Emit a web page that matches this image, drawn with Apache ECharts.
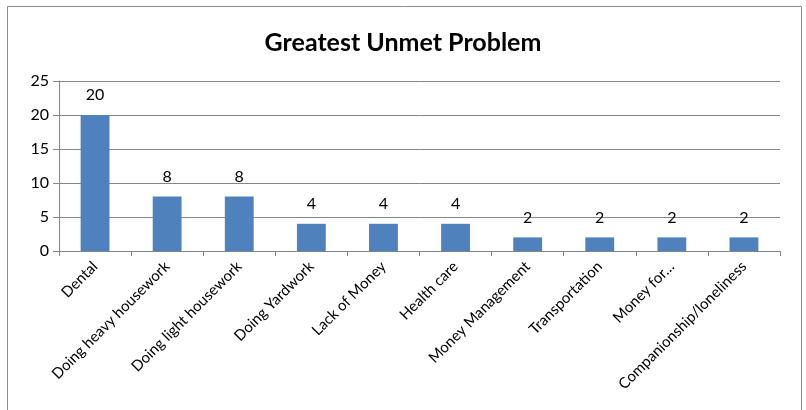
<!DOCTYPE html>
<html><head><meta charset="utf-8">
<script src="https://cdn.jsdelivr.net/npm/echarts@6/dist/echarts.min.js"></script>
<style>html,body{margin:0;padding:0;background:#fff}#c{width:806px;height:410px}</style>
</head><body><div id="c"></div>
<script>
const categories = ["Dental","Doing heavy housework","Doing light housework","Doing Yardwork","Lack of Money","Health care","Money Management","Transportation","Money for\u2026","Companionship/loneliness"];
const values = [20,8,8,4,4,4,2,2,2,2];
const yTicks = {min:0, max:25, interval:5};
const titleText = "Greatest Unmet Problem";
const font = "Lato, 'Open Sans', sans-serif";
const chart = echarts.init(document.getElementById('c'), null, {renderer:'canvas'});
chart.setOption({
  animation:false,
  backgroundColor:'#fff',
  title:{text:titleText,left:'center',top:25,textStyle:{fontFamily:font,fontWeight:'bold',fontSize:25,color:'#000'}},
  graphic:[{type:'rect',shape:{x:7.5,y:6.5,width:794,height:430},style:{fill:'none',stroke:'#8c8c8c',lineWidth:1},z:-1}],
  grid:{left:59,right:26,top:81,bottom:159,containLabel:false},
  xAxis:{type:'category',data:categories,boundaryGap:true,
    axisLine:{lineStyle:{color:'#868686'}},
    axisTick:{show:true,alignWithLabel:false,length:5,lineStyle:{color:'#868686'}},
    axisLabel:{rotate:45,interval:0,fontFamily:font,fontSize:15,color:'#000',margin:13}},
  yAxis:{type:'value',min:yTicks.min,max:yTicks.max,interval:yTicks.interval,
    axisLine:{show:true,lineStyle:{color:'#868686'}},
    axisTick:{show:true,length:6,lineStyle:{color:'#868686'}},
    splitLine:{show:true,lineStyle:{color:'#868686'}},
    axisLabel:{fontFamily:font,fontSize:16,color:'#000',margin:10}},
  series:[{type:'bar',data:values,barWidth:'40%',itemStyle:{color:'#4F81BD'},
    label:{show:true,position:'top',distance:12,fontFamily:font,fontSize:16,color:'#000'}}]
});
</script></body></html>
